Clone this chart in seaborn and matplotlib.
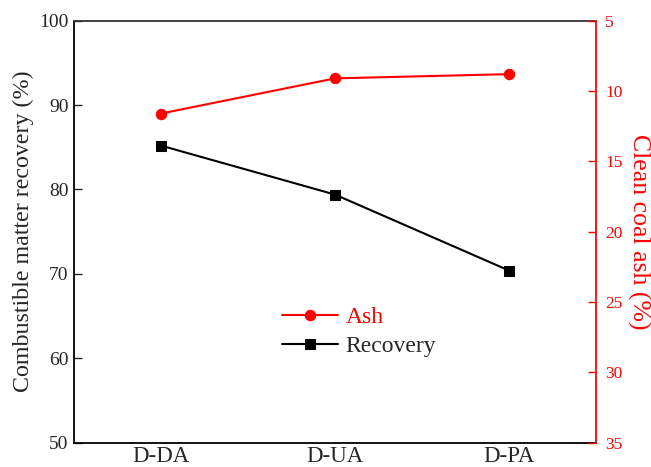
import matplotlib
matplotlib.use("Agg")
import matplotlib.pyplot as plt
import seaborn as sns
import pandas as pd

categories = ["D-DA", "D-UA", "D-PA"]
recovery = [85.2, 79.4, 70.4]
ash = [11.6, 9.1, 8.8]

sns.set_style("ticks")
plt.rcParams["font.family"] = ["Liberation Serif", "DejaVu Serif"]

df = pd.DataFrame({"Method": categories, "Recovery": recovery, "Ash": ash})

fig = plt.figure(figsize=(6.51, 4.67), dpi=100)
ax = fig.add_axes([0.1137, 0.052, 0.8018, 0.9037])
ax2 = ax.twinx()

red = "#ff0000"
sns.lineplot(data=df, x="Method", y="Recovery", ax=ax, color="black", marker="s",
             markersize=6.5, markeredgecolor="black", linewidth=1.5, label="Recovery", sort=False)
sns.lineplot(data=df, x="Method", y="Ash", ax=ax2, color=red, marker="o",
             markersize=7.5, markeredgecolor=red, linewidth=1.5, label="Ash", sort=False)

ax.set_xlim(-0.5, 2.5)
ax.set_ylim(50, 100)
ax.set_yticks([50, 60, 70, 80, 90, 100])
ax2.set_ylim(35, 5)
ax2.set_yticks([5, 10, 15, 20, 25, 30, 35])

ax.set_xlabel("")
ax.set_ylabel("Combustible matter recovery (%)", fontsize=17.3, labelpad=4)
ax2.set_ylabel("Clean coal ash (%)", fontsize=18.5, color=red, rotation=270, labelpad=20)

ax.tick_params(axis="x", length=0, labelsize=16.5, pad=2.5)
ax.tick_params(axis="y", direction="in", length=6, width=1, labelsize=14, pad=4)
ax2.tick_params(axis="y", direction="in", length=5.5, width=1, labelsize=12.5,
                colors=red, pad=6.5)

for sp in ["left", "bottom"]:
    ax.spines[sp].set_color("black")
    ax.spines[sp].set_linewidth(1.3)
ax.spines["top"].set_color("#333333")
ax.spines["top"].set_linewidth(1.3)
ax2.spines["right"].set_color(red)
ax2.spines["right"].set_linewidth(1.3)
ax2.spines["top"].set_visible(False)
ax2.spines["left"].set_visible(False)
ax2.spines["bottom"].set_visible(False)
ax.spines["right"].set_visible(False)

ax.get_legend().remove()
h1, l1 = ax2.get_legend_handles_labels()
h0, l0 = ax.get_legend_handles_labels()
ax2.get_legend().remove()
leg = ax2.legend(h1 + h0, l1 + l0, loc="upper left", bbox_to_anchor=(0.398, 0.322),
                 frameon=False, fontsize=17, handlelength=2.4, handletextpad=0.3,
                 labelspacing=0.3, borderpad=0, borderaxespad=0)
leg.get_texts()[0].set_color(red)

fig.savefig("out.png", dpi=100)
